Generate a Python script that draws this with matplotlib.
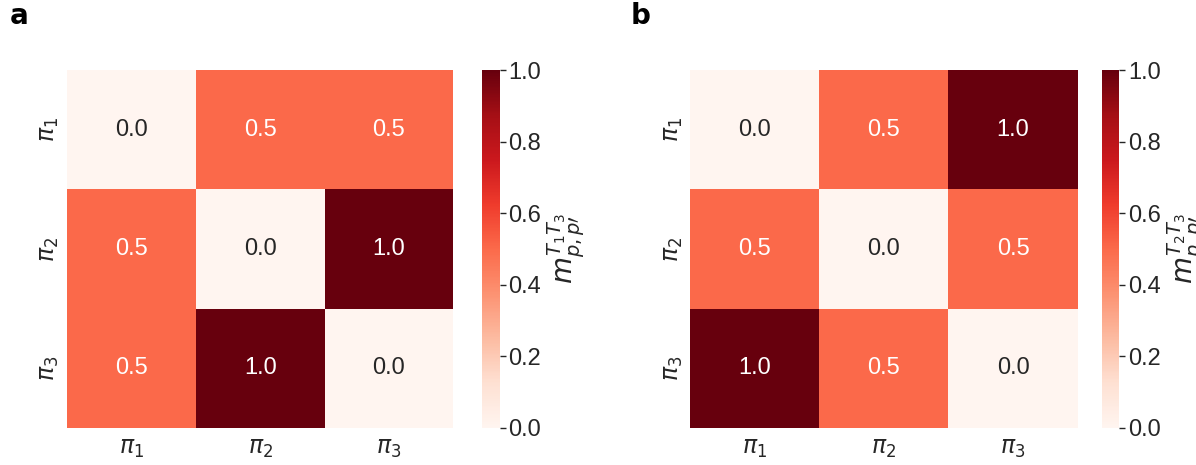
import numpy as np
import matplotlib
matplotlib.use("Agg")
import matplotlib.pyplot as plt
import seaborn as sns

labels = [r"$\pi_1$", r"$\pi_2$", r"$\pi_3$"]
matrix_a = [[0.0, 0.5, 0.5],
            [0.5, 0.0, 1.0],
            [0.5, 1.0, 0.0]]
matrix_b = [[0.0, 0.5, 1.0],
            [0.5, 0.0, 0.5],
            [1.0, 0.5, 0.0]]
cbar_label_a = r"$m_{p,p\prime}^{T_1T_3}$"
cbar_label_b = r"$m_{p,p\prime}^{T_2T_3}$"
panel_letters = ["a", "b"]

sns.set_theme(style="white")
plt.rcParams['font.family'] = ['Liberation Sans', 'DejaVu Sans']
plt.rcParams['text.color'] = '#262626'
plt.rcParams['xtick.color'] = '#262626'
plt.rcParams['ytick.color'] = '#262626'

fig = plt.figure(figsize=(11.96, 4.65), dpi=100)
ax_a = fig.add_axes([0.056, 0.0796, 0.323, 0.7695])
cax_a = fig.add_axes([0.403, 0.0796, 0.015, 0.7695])
ax_b = fig.add_axes([0.577, 0.0796, 0.324, 0.7695])
cax_b = fig.add_axes([0.921, 0.0796, 0.015, 0.7695])

for ax, cax, mat, lab, letter, lx in [
        (ax_a, cax_a, matrix_a, cbar_label_a, panel_letters[0], 0.008),
        (ax_b, cax_b, matrix_b, cbar_label_b, panel_letters[1], 0.527)]:
    sns.heatmap(np.array(mat), ax=ax, cbar_ax=cax, cmap="Reds", vmin=0, vmax=1,
                annot=True, fmt=".1f", annot_kws={"fontsize": 17},
                xticklabels=labels, yticklabels=labels)
    ax.tick_params(axis='x', length=0, labelsize=17, pad=7)
    ax.tick_params(axis='y', length=0, labelsize=17, pad=4)
    ax.set_yticklabels(labels, rotation=90, va='center')
    cax.tick_params(labelsize=17, length=4, width=1, color='#262626', pad=2)
    cax.yaxis.set_ticks_position('right')
    for s in cax.spines.values():
        s.set_visible(False)
    cax.set_ylabel(lab, fontsize=20, labelpad=3)
    fig.text(lx, 0.966, letter, fontsize=20, fontweight='bold', color='black',
             family='DejaVu Sans', va='center')

fig.savefig("out.png", dpi=100)
